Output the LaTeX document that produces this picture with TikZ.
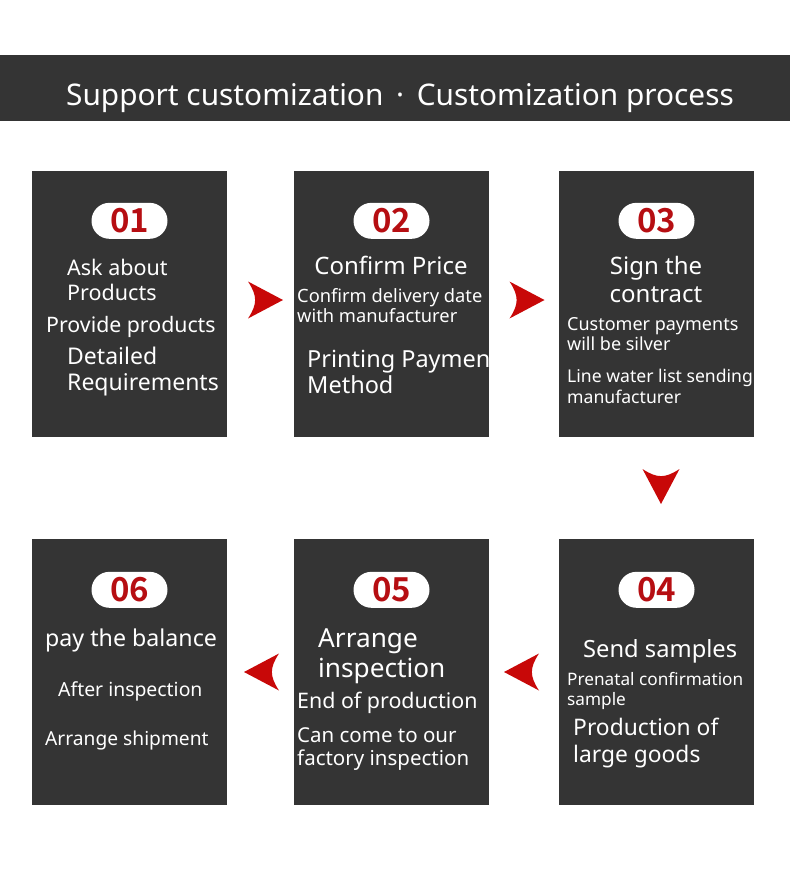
\documentclass[tikz,border=0pt]{standalone}
\usepackage{fontspec}
\setmainfont{Noto Sans}
\newfontfamily\numfont{Noto Sans CJK SC}[BoldFont={* Bold}]
\usepackage{tikz}
\usetikzlibrary{calc}
\definecolor{cardgray}{RGB}{52,52,52}
\definecolor{arrowred}{RGB}{200,8,8}
\definecolor{numred}{RGB}{182,14,18}
\newcommand{\fsz}[1]{\fontsize{#1}{#1}\selectfont}
\tikzset{
  card/.style={fill=cardgray, minimum width=195, minimum height=266, inner sep=0},
  pill/.style={fill=white, rounded corners=18, minimum width=76, minimum height=36,
    inner sep=0, text=numred, font=\numfont\bfseries\fsz{33}},
  ln/.style={text=white, inner sep=0, anchor=base west},
  lnc/.style={text=white, inner sep=0, anchor=base},
  flowarrow/.pic={
    \fill[arrowred] (17.5,0) -- (-17.5,-18.5)
      .. controls (-8,-4) and (-8,4) .. (-17.5,18.5) -- cycle;
  }
}

\begin{document}
\begin{tikzpicture}[x=1pt, y=-1pt]
  \useasboundingbox (0,0) rectangle (790,878);
  % title bar
  \fill[cardgray] (0,55) rectangle (790,121);
  \node[lnc, font=\fsz{29.8}] (title) at (400,105) {Support customization \,·\, Customization process};

  % cards
  \node[card] (b1) at (129.5,304) {};
  \node[card] (b2) at (391.5,304) {};
  \node[card] (b3) at (656.5,304) {};
  \node[card] (b4) at (656.5,672) {};
  \node[card] (b5) at (391.5,672) {};
  \node[card] (b6) at (129.5,672) {};

  \node[pill] (n1) at ($(b1.north)+(0,50)$) {01};
  \node[pill] (n2) at ($(b2.north)+(0,50)$) {02};
  \node[pill] (n3) at ($(b3.north)+(0,50)$) {03};
  \node[pill] (n4) at ($(b4.north)+(0,51)$) {04};
  \node[pill] (n5) at ($(b5.north)+(0,51)$) {05};
  \node[pill] (n6) at ($(b6.north)+(0,51)$) {06};

  % step 01
  \node[ln, font=\fsz{21.5}] (t1a) at (67,275) {Ask about};
  \node[ln, font=\fsz{21.5}] (t1b) at (67,300) {Products};
  \node[ln, font=\fsz{21.3}] (t1c) at (46,332) {Provide products};
  \node[ln, font=\fsz{23}] (t1d) at (67,364) {Detailed};
  \node[ln, font=\fsz{23}] (t1e) at (67,390) {Requirements};

  % step 02
  \node[lnc, font=\fsz{24}] (t2a) at (391,274) {Confirm Price};
  \node[ln, font=\fsz{18.3}] (t2b) at (297,302) {Confirm delivery date};
  \node[ln, font=\fsz{18.3}] (t2c) at (297,322) {with manufacturer};
  \begin{scope}
    \clip (b2.south west) rectangle (b2.north east);
    \node[ln, font=\fsz{23.5}] (t2d) at (307,367) {Printing Payment};
  \end{scope}
  \node[ln, font=\fsz{23.5}] (t2e) at (307,393) {Method};

  % step 03
  \node[lnc, font=\fsz{24}] (t3a) at (656,274) {Sign the};
  \node[lnc, font=\fsz{24}] (t3b) at (656,302) {contract};
  \node[ln, font=\fsz{18}] (t3c) at (567,330) {Customer payments};
  \node[ln, font=\fsz{18}] (t3d) at (567,350) {will be silver};
  \node[ln, font=\fsz{17.6}] (t3e) at (567,382) {Line water list sending};
  \node[ln, font=\fsz{17.6}] (t3f) at (567,403) {manufacturer};

  % step 04
  \node[ln, font=\fsz{23.7}] (t4a) at (583,657) {Send samples};
  \node[ln, font=\fsz{17.2}] (t4b) at (567,685) {Prenatal confirmation};
  \node[ln, font=\fsz{17.2}] (t4c) at (567,705) {sample};
  \node[ln, font=\fsz{22.8}] (t4d) at (573,735) {Production of};
  \node[ln, font=\fsz{22.8}] (t4e) at (573,762) {large goods};

  % step 05
  \node[ln, font=\fsz{26.2}] (t5a) at (318,647) {Arrange};
  \node[ln, font=\fsz{26.2}] (t5b) at (318,677) {inspection};
  \node[ln, font=\fsz{21.4}] (t5c) at (297,708) {End of production};
  \node[ln, font=\fsz{20.5}] (t5d) at (297,742) {Can come to our};
  \node[ln, font=\fsz{20.5}] (t5e) at (297,765) {factory inspection};

  % step 06
  \node[ln, font=\fsz{23.2}] (t6a) at (45,646) {pay the balance};
  \node[ln, font=\fsz{19.4}] (t6b) at (58,696) {After inspection};
  \node[ln, font=\fsz{19.2}] (t6c) at (45,745) {Arrange shipment};

  % arrows between the cards
  \pic at ($(b1.east)!0.5!(b2.west)+(5,-4)$) {flowarrow};
  \pic at ($(b2.east)!0.5!(b3.west)+(3,-4)$) {flowarrow};
  \pic[rotate=-90] at ($(b3.south)!0.5!(b4.north)+(4.5,-1.5)$) {flowarrow};
  \pic[rotate=180] at ($(b4.west)!0.5!(b5.east)+(-2.5,0)$) {flowarrow};
  \pic[rotate=180] at ($(b5.west)!0.5!(b6.east)+(1,0)$) {flowarrow};
\end{tikzpicture}
\end{document}
